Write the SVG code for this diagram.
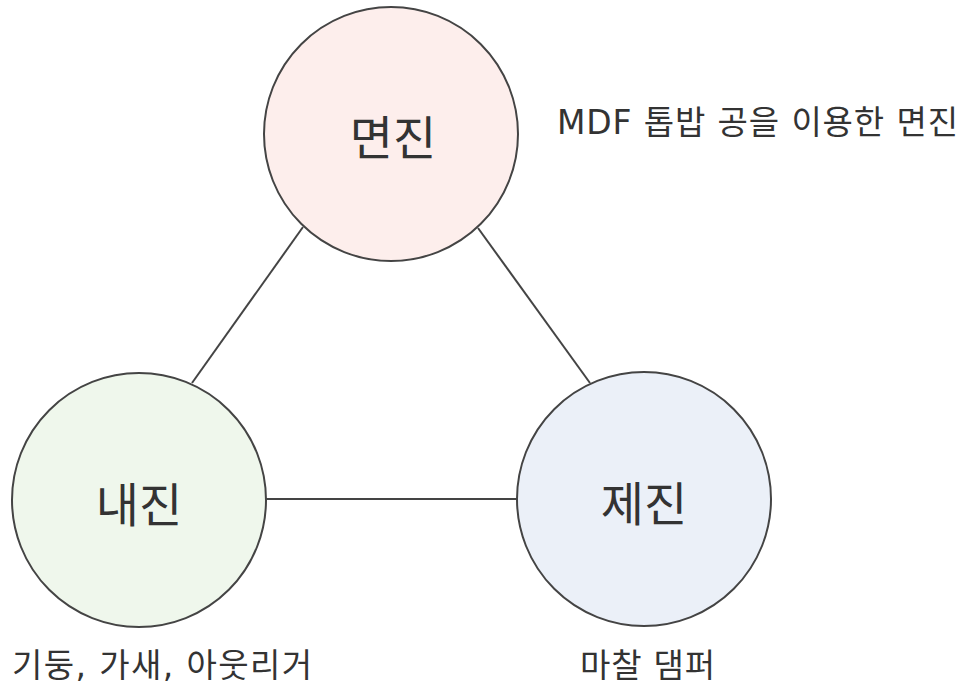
<svg xmlns="http://www.w3.org/2000/svg" width="969" height="686" viewBox="0 0 969 686">
<style>
.node{stroke:#444;stroke-width:2}
.conn line{stroke:#444;stroke-width:2}
text{font-family:"DejaVu Sans","Noto Sans CJK KR",sans-serif;fill:#333}
.big{font-size:47px;text-anchor:middle}
.lbl{font-size:33px}
</style>
<rect width="969" height="686" fill="#fff"/>
<g id="connectors" class="conn">
<line x1="303" y1="227" x2="192" y2="383"/>
<line x1="478" y1="228" x2="590" y2="383"/>
<line x1="266" y1="499" x2="517" y2="499"/>
</g>
<g id="node-top">
<circle class="node" cx="391" cy="134" r="127" fill="#fdeeec"/>
<text class="big" x="393" y="155">면진</text>
</g>
<g id="node-left">
<circle class="node" cx="139" cy="500" r="127" fill="#eff7ec"/>
<text class="big" x="139" y="522">내진</text>
</g>
<g id="node-right">
<circle class="node" cx="644" cy="499" r="127" fill="#ebf0f8"/>
<text class="big" x="644" y="521">제진</text>
</g>
<text class="lbl" x="557" y="134" textLength="401" lengthAdjust="spacing">MDF 톱밥 공을 이용한 면진</text>
<text class="lbl" x="12" y="677" textLength="300" lengthAdjust="spacing">기둥, 가새, 아웃리거</text>
<text class="lbl" x="580" y="677" textLength="135" lengthAdjust="spacing">마찰 댐퍼</text>
</svg>
